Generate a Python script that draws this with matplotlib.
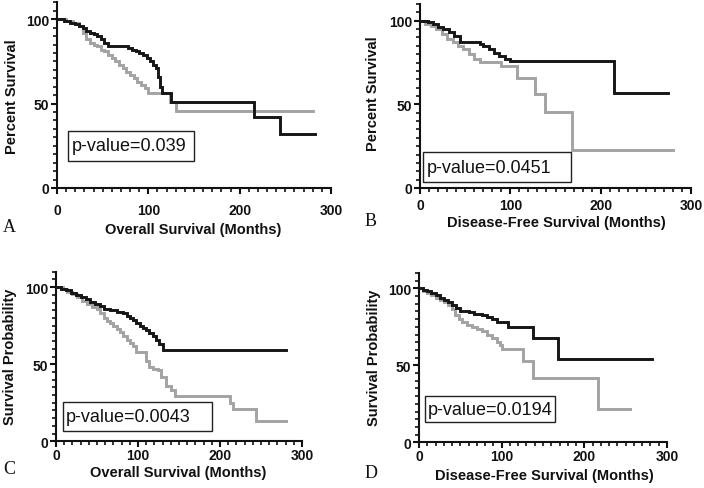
import matplotlib
matplotlib.use("Agg")
import matplotlib.pyplot as plt
from matplotlib.patches import Rectangle
from matplotlib.ticker import MultipleLocator

# ---------------- data (Kaplan-Meier step curves) ----------------
# Panel A: Overall survival
a_black_t = [0, 8, 14, 20, 24, 28, 32, 36, 40, 44, 48, 52, 56, 78, 82, 86, 90, 94, 98, 102, 105, 108, 111, 113, 115, 125, 216, 244, 282]
a_black_s = [100, 99, 98, 97, 96, 95, 93, 92, 91, 90, 88, 86, 84, 83, 82, 81, 80, 79, 77, 75, 73, 71, 66, 60, 56, 51, 42, 32, 32]
a_gray_t = [0, 10, 18, 24, 28, 32, 36, 40, 44, 48, 52, 56, 60, 64, 68, 72, 76, 80, 84, 88, 92, 96, 100, 124, 130, 280]
a_gray_s = [100, 99, 98, 96, 92, 88, 86, 85, 84, 82, 81, 79, 77, 75, 73, 71, 69, 67, 65, 63, 61, 59, 56, 51, 45.5, 45.5]

# Panel B: Disease-free survival
b_black_t = [0, 9, 14, 20, 26, 32, 38, 44, 66, 70, 76, 82, 88, 94, 100, 215, 275]
b_black_s = [100, 99, 98, 96, 95, 93, 91, 87, 86, 85, 83, 81, 79, 77, 76, 57, 57]
b_gray_t = [0, 6, 12, 18, 24, 30, 36, 42, 48, 54, 60, 66, 90, 107, 127, 138, 168, 280]
b_gray_s = [100, 98, 97, 95, 92, 89, 87, 85, 83, 80, 77, 75.5, 73, 66, 56, 45.5, 23, 23]

# Panel C: Overall survival
c_black_t = [0, 6, 12, 18, 24, 30, 36, 42, 48, 54, 58, 66, 74, 82, 86, 90, 94, 98, 102, 106, 110, 114, 118, 122, 126, 130, 280]
c_black_s = [100, 99, 98, 96.5, 95, 93.5, 92, 90.5, 89, 87.5, 85.5, 85, 84, 83, 81.5, 80, 78.5, 77, 75, 73.5, 72, 70, 68, 66, 63, 59.5, 59.5]
c_gray_t = [0, 8, 14, 20, 26, 32, 38, 44, 50, 54, 58, 62, 66, 70, 74, 78, 82, 86, 90, 94, 98, 110, 114, 118, 124, 128, 134, 140, 145, 212, 216, 244, 281]
c_gray_s = [100, 98.5, 97, 95.5, 93.5, 91, 89, 87, 85.5, 83, 80, 78, 76.5, 75, 73, 71, 68.5, 66, 63.5, 61.5, 58, 52, 48, 47, 46, 42, 36, 33, 29.6, 25, 21, 13.4, 13.4]

# Panel D: Disease-free survival
d_black_t = [0, 5, 10, 15, 20, 25, 30, 35, 40, 45, 50, 60, 66, 76, 82, 88, 94, 108, 137.5, 168.5, 282]
d_black_s = [100, 99, 98, 97, 95.5, 94, 92.5, 91, 89, 87, 85.5, 84.5, 83.5, 83, 81.5, 80, 78, 75, 68, 54.4, 54.4]
d_gray_t = [0, 5, 10, 15, 20, 25, 30, 35, 40, 44, 48, 52, 58, 64, 70, 76, 82, 88, 94, 98, 100, 126, 137.5, 216, 255]
d_gray_s = [100, 98.5, 97, 95.5, 94, 92.5, 91, 89, 86.5, 83, 80, 78, 76.5, 75, 73.5, 72, 70, 68, 65, 63, 60.5, 52.5, 42, 21.6, 21.6]

panel_letters = ["A", "B", "C", "D"]
x_labels = ["Overall Survival (Months)", "Disease-Free Survival (Months)",
            "Overall Survival (Months)", "Disease-Free Survival (Months)"]
y_labels = ["Percent Survival", "Percent Survival", "Survival Probability", "Survival Probability"]
p_values = ["p-value=0.039", "p-value=0.0451", "p-value=0.0043", "p-value=0.0194"]
x_ticks = [0, 100, 200, 300]
y_ticks = [0, 50, 100]

# ---------------- layout ----------------
W, H = 704, 489
fig = plt.figure(figsize=(W / 100, H / 100), dpi=100)
SANS = "Liberation Sans"
SERIF = "Liberation Serif"

def fx(px):
    return px / W

def fy(py):
    return 1 - py / H

# axes rectangles in pixels: left, right, top(y=110), bottom(y=0)
rects = [(57, 331, 3.3, 189), (420, 691, 5, 189), (56, 302, 272.7, 442.3), (419, 667, 274, 443.3)]
xpads = [6.6, 2.6, 0.25, 0.0]
# box (data coords x0, x1, y0, y1)
boxes = [(12, 150, 16, 34), (3, 167, 3.6, 21.5), (8.5, 190, 6.7, 25.5), (7, 164, 13, 30)]
letter_pos = [(9, 227), (371, 222), (9, 470), (371, 474)]
xlabel_pos = [(193, 230), (556, 222.8), (178, 472.8), (544, 476)]
ylabel_pos = [(12, 97), (373, 94), (10, 357), (374, 358)]

curves = [
    (a_black_t, a_black_s, a_gray_t, a_gray_s),
    (b_black_t, b_black_s, b_gray_t, b_gray_s),
    (c_black_t, c_black_s, c_gray_t, c_gray_s),
    (d_black_t, d_black_s, d_gray_t, d_gray_s),
]

BLACK = "#161616"
GRAY = "#a3a3a3"
TICKFS = 10
LABELFS = 10.5

for i in range(4):
    l, r, t, b = rects[i]
    ax = fig.add_axes([fx(l), fy(b), fx(r) - fx(l), fy(t) - fy(b)])
    bt, bs, gt, gs = curves[i]
    ax.step(gt, gs, where="post", color=GRAY, lw=2.1, solid_joinstyle="miter", zorder=3)
    ax.step(bt, bs, where="post", color=BLACK, lw=2.1, solid_joinstyle="miter", zorder=4)
    ax.set_xlim(0, 300)
    ax.set_ylim(0, 110)
    for s in ["top", "right"]:
        ax.spines[s].set_visible(False)
    for s in ["left", "bottom"]:
        ax.spines[s].set_linewidth(1.5)
        ax.spines[s].set_color("#111111")
    ax.set_xticks(x_ticks)
    ax.set_yticks(y_ticks)
    ax.xaxis.set_minor_locator(MultipleLocator(10))
    ax.yaxis.set_minor_locator(MultipleLocator(5))
    ax.tick_params(which="major", length=4.5, width=1.5, color="#111111")
    ax.tick_params(which="minor", length=3, width=1.2, color="#111111")
    ax.tick_params(axis="x", which="major", pad=xpads[i])
    ax.tick_params(axis="y", which="major", pad=1)
    for lab in ax.get_xticklabels() + ax.get_yticklabels():
        lab.set_fontfamily(SANS)
        lab.set_fontweight("bold")
        lab.set_fontsize(TICKFS)
        lab.set_color("#111111")
    ax.patch.set_alpha(0)
    x0, x1, y0, y1 = boxes[i]
    ax.add_patch(Rectangle((x0, y0), x1 - x0, y1 - y0, fill=False, lw=1.0,
                           edgecolor="#222222", zorder=5, clip_on=False))
    ax.text(x0 + 4, (y0 + y1) / 2, p_values[i], fontfamily=SANS, fontsize=13,
            va="center", ha="left", color="#111111", zorder=6)

    lx, ly = letter_pos[i]
    fig.text(fx(lx), fy(ly), panel_letters[i], fontfamily=SERIF, fontsize=13,
             ha="center", va="center", color="#111111")
    xx, xy = xlabel_pos[i]
    fig.text(fx(xx), fy(xy), x_labels[i], fontfamily=SANS, fontweight="bold",
             fontsize=LABELFS, ha="center", va="center", color="#111111")
    yx, yy = ylabel_pos[i]
    fig.text(fx(yx), fy(yy), y_labels[i], fontfamily=SANS, fontweight="bold",
             fontsize=LABELFS, ha="center", va="center", rotation=90, color="#111111")

fig.savefig("out.png", dpi=100)
